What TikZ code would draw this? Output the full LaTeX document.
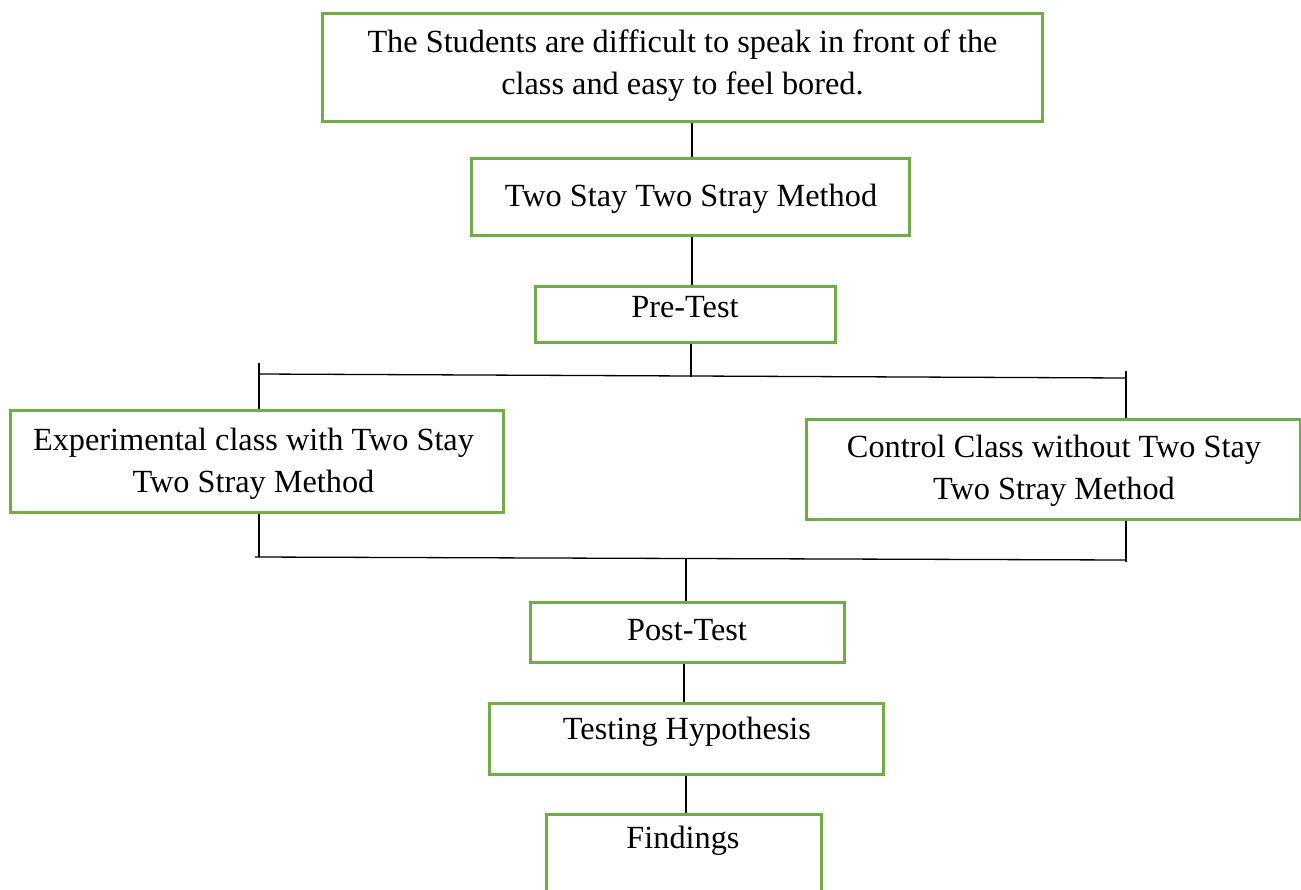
\documentclass[tikz,border=0pt]{standalone}
\usepackage{fontspec}
\setmainfont{Liberation Serif}
\usetikzlibrary{calc}
\definecolor{boxgreen}{HTML}{70AD47}
\begin{document}
\begin{tikzpicture}[x=1pt,y=-1pt,
  gbox/.style={draw=boxgreen,line width=2.6pt,inner sep=0pt,anchor=north west},
  txt/.style={font=\fontsize{32.3}{42}\selectfont,inner sep=0pt,align=center},
  conn/.style={draw=black,line width=1.3pt}]
\useasboundingbox (0,0) rectangle (1301,889);
\clip (0,0) rectangle (1301,889);
\fill[white] (0,0) rectangle (1301,889);
% boxes
\node[gbox,minimum width=720pt,minimum height=108pt] (top) at (321,12) {};
\node[gbox,minimum width=438pt,minimum height=77pt] (two) at (470,157) {};
\node[gbox,minimum width=300pt,minimum height=56pt] (pre) at (534,285) {};
\node[gbox,minimum width=493pt,minimum height=102pt] (exp) at (9,409) {};
\node[gbox,minimum width=494pt,minimum height=100pt] (ctrl) at (805,418) {};
\node[gbox,minimum width=314pt,minimum height=60pt] (post) at (529,601) {};
\node[gbox,minimum width=394pt,minimum height=71pt] (test) at (488,702) {};
\node[gbox,minimum width=275pt,minimum height=100pt] (find) at (545,813) {};
% texts
\node[txt] (ttop) at (682.5,65.7) {The Students are difficult to speak in front of the\\class and easy to feel bored.};
\node[txt,anchor=base] (ttwo) at (691,206) {Two Stay Two Stray Method};
\node[txt,anchor=base] (tpre) at (685,317) {Pre-Test};
\node[txt] (texp) at (253.5,463.7) {Experimental class with Two Stay\\Two Stray Method};
\node[txt] (tctrl) at (1054,470.7) {Control Class without Two Stay\\Two Stray Method};
\node[txt,anchor=base] (tpost) at (687,640) {Post-Test};
\node[txt,anchor=base] (ttest) at (687,739) {Testing Hypothesis};
\node[txt,anchor=base] (tfind) at (683,848) {Findings};
% junction coordinates
\coordinate (a1) at (692,0);
\coordinate (jU) at (691,377);
\coordinate (uL) at (259,374);
\coordinate (uR) at (1126,378);
\coordinate (uLt) at (259,363);
\coordinate (uRt) at (1126,371);
\coordinate (bL) at (259,557);
\coordinate (bLs) at (255,557);
\coordinate (bR) at (1126,560);
\coordinate (bRb) at (1126,562);
\coordinate (jB) at (686,558);
\coordinate (a2) at (684,0);
\coordinate (a3) at (686,0);
% connectors
\draw[conn] (top.south -| a1) -- (two.north -| a1);
\draw[conn] (two.south -| a1) -- (pre.north -| a1);
\draw[conn] (pre.south -| jU) -- (jU);
\draw[conn] (uL) -- (uR);
\draw[conn] (uLt) -- (uLt |- exp.north);
\draw[conn] (uRt) -- (uRt |- ctrl.north);
\draw[conn] (exp.south -| bL) -- (bL);
\draw[conn] (bLs) -- (bR);
\draw[conn] (ctrl.south -| bRb) -- (bRb);
\draw[conn] (jB) -- (jB |- post.north);
\draw[conn] (post.south -| a2) -- (test.north -| a2);
\draw[conn] (test.south -| a3) -- (find.north -| a3);
\end{tikzpicture}
\end{document}
